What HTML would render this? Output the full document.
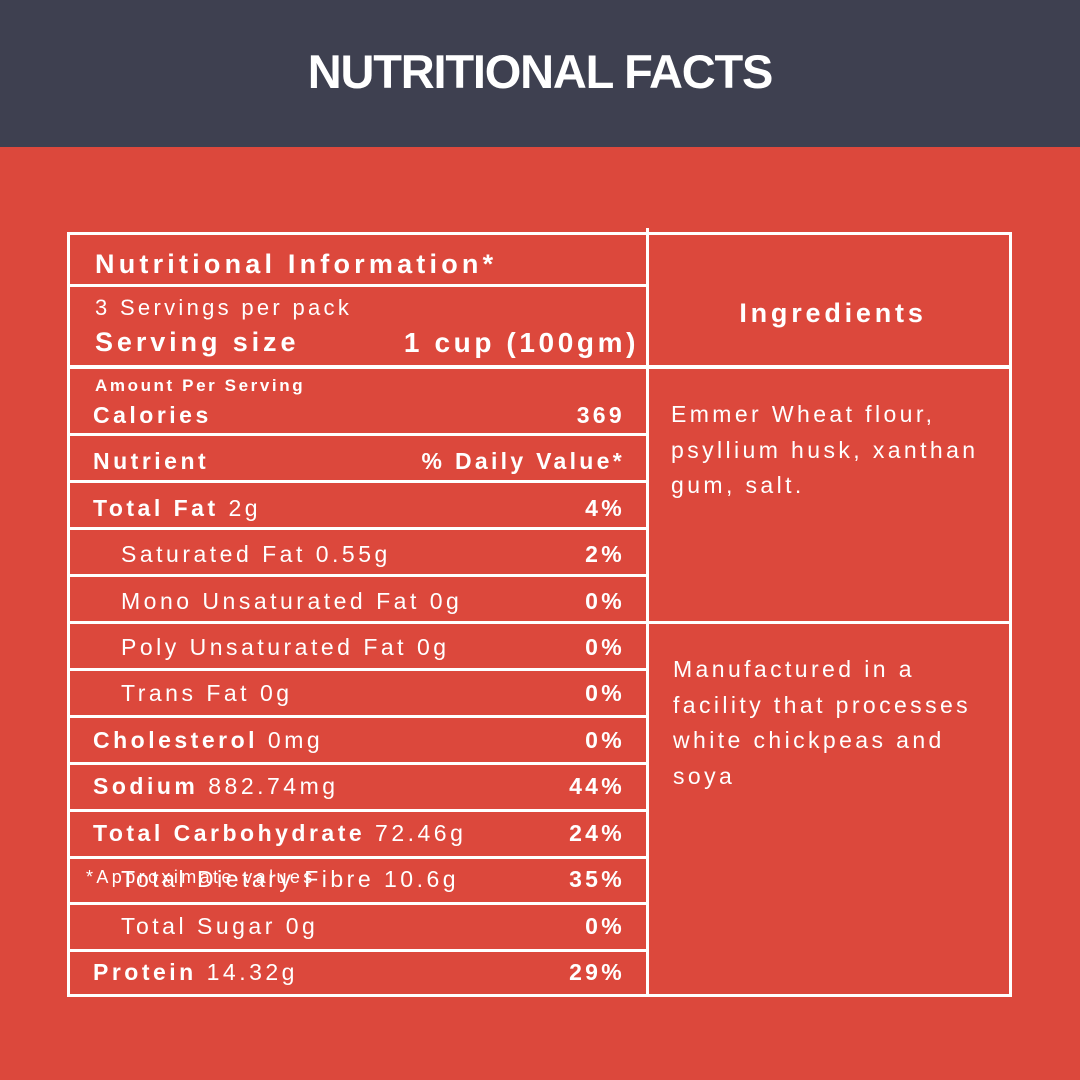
<!DOCTYPE html>
<html><head><style>
body{margin:0;width:1080px;height:1080px;background:#dc483c;position:relative;overflow:hidden;font-family:"Liberation Sans",sans-serif;color:#fff}
.hdr{position:absolute;left:0;top:0;width:1080px;height:147px;background:#3e4050}
.title{position:absolute;left:0;width:1080px;top:44px;text-align:center;font-weight:bold;font-size:47px;letter-spacing:-1.2px;line-height:56px}
.h{position:absolute;background:#fff;height:3px}
.v{position:absolute;background:#fff;width:3px}
.t{position:absolute;font-size:23px;letter-spacing:3.5px;white-space:nowrap;line-height:26px}
.r{position:absolute;right:455px;font-size:23px;letter-spacing:3.3px;font-weight:bold;line-height:26px;text-align:right}
b{letter-spacing:3.5px}
</style></head><body>
<div class="hdr"></div>
<div class="title">NUTRITIONAL FACTS</div>
<div class="v" style="left:67px;top:233px;height:764px"></div>
<div class="v" style="left:646px;top:228px;height:769px"></div>
<div class="v" style="left:1009px;top:233px;height:764px"></div>
<div class="h" style="left:67px;top:232px;width:581px"></div>
<div class="h" style="left:648px;top:232px;width:364px"></div>
<div class="h" style="left:67px;top:284px;width:581px"></div>
<div class="h" style="left:67px;top:365px;width:945px;height:4px"></div>
<div class="h" style="left:67px;top:433px;width:581px"></div>
<div class="h" style="left:67px;top:480px;width:581px"></div>
<div class="h" style="left:67px;top:527px;width:581px"></div>
<div class="h" style="left:67px;top:574px;width:581px"></div>
<div class="h" style="left:67px;top:621px;width:945px"></div>
<div class="h" style="left:67px;top:668px;width:581px"></div>
<div class="h" style="left:67px;top:715px;width:581px"></div>
<div class="h" style="left:67px;top:762px;width:581px"></div>
<div class="h" style="left:67px;top:809px;width:581px"></div>
<div class="h" style="left:67px;top:856px;width:581px"></div>
<div class="h" style="left:67px;top:902px;width:581px"></div>
<div class="h" style="left:67px;top:949px;width:581px"></div>
<div class="h" style="left:67px;top:994px;width:945px"></div>
<div class="t" style="left:95px;top:249px;font-size:27px;font-weight:bold;letter-spacing:4.2px;line-height:31px">Nutritional Information*</div>
<div class="t" style="left:95px;top:295px;font-size:22px;letter-spacing:3.3px">3 Servings per pack</div>
<div class="t" style="left:95px;top:327px;font-size:27px;font-weight:bold;letter-spacing:3.9px;line-height:31px">Serving size</div>
<div class="t" style="right:441px;top:327px;font-size:28px;font-weight:bold;letter-spacing:3.6px;line-height:31px">1 cup (100gm)</div>
<div class="t" style="left:95px;top:375px;font-size:17px;font-weight:bold;letter-spacing:2.6px;line-height:22px">Amount Per Serving</div>
<div class="t" style="left:93px;top:402px;font-weight:bold">Calories</div><div class="r" style="top:402px">369</div>
<div class="t" style="left:93px;top:448px;font-weight:bold">Nutrient</div><div class="r" style="top:448px">% Daily Value*</div>
<div class="t" style="left:93px;top:495px"><b>Total Fat</b> 2g</div><div class="r" style="top:495px">4%</div>
<div class="t" style="left:121px;top:541px">Saturated Fat 0.55g</div><div class="r" style="top:541px">2%</div>
<div class="t" style="left:121px;top:588px">Mono Unsaturated Fat 0g</div><div class="r" style="top:588px">0%</div>
<div class="t" style="left:121px;top:634px">Poly Unsaturated Fat 0g</div><div class="r" style="top:634px">0%</div>
<div class="t" style="left:121px;top:680px">Trans Fat 0g</div><div class="r" style="top:680px">0%</div>
<div class="t" style="left:93px;top:727px"><b>Cholesterol</b> 0mg</div><div class="r" style="top:727px">0%</div>
<div class="t" style="left:93px;top:773px"><b>Sodium</b> 882.74mg</div><div class="r" style="top:773px">44%</div>
<div class="t" style="left:93px;top:820px"><b>Total Carbohydrate</b> 72.46g</div><div class="r" style="top:820px">24%</div>
<div class="t" style="left:121px;top:866px">Total Dietary Fibre 10.6g</div><div class="r" style="top:866px">35%</div>
<div class="t" style="left:86px;top:866px;font-size:18px;letter-spacing:3.4px;line-height:22px">*Approximate values</div>
<div class="t" style="left:121px;top:913px">Total Sugar 0g</div><div class="r" style="top:913px">0%</div>
<div class="t" style="left:93px;top:959px"><b>Protein</b> 14.32g</div><div class="r" style="top:959px">29%</div>
<div class="t" style="left:651px;width:364px;text-align:center;top:298px;font-size:27px;font-weight:bold;letter-spacing:3.8px;line-height:31px">Ingredients</div>
<div class="t" style="left:671px;top:397px;line-height:35.5px;letter-spacing:3.4px">Emmer Wheat flour,<br>psyllium husk, xanthan<br>gum, salt.</div>
<div class="t" style="left:673px;top:652px;line-height:35.5px;letter-spacing:3.4px">Manufactured in a<br>facility that processes<br>white chickpeas and<br>soya</div>
</body></html>
